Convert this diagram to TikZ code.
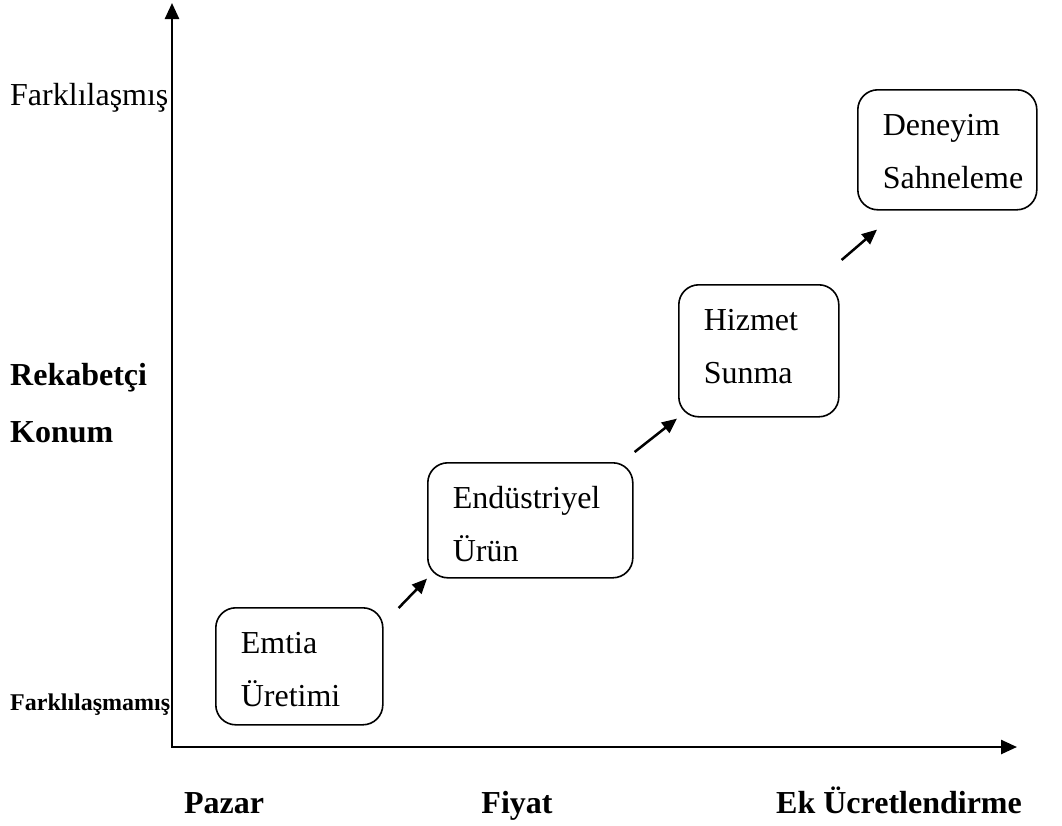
\documentclass[tikz,border=0pt]{standalone}
\usepackage{fontspec}
\setmainfont{Liberation Serif}
\usetikzlibrary{arrows.meta}

\begin{document}
\begin{tikzpicture}[x=1pt,y=-1pt,
  stage/.style={draw, line width=1.6pt, rounded corners=20pt, anchor=north west,
    align=left, inner xsep=25pt, inner ysep=0pt, text height=46pt, font=\fontsize{32}{53}\selectfont},
  axis/.style={line width=2.5pt, {Triangle[length=16pt,width=14pt]}-{Triangle[length=16pt,width=14pt]}},
  stepto/.style={line width=2.5pt, -{Triangle[length=15pt,width=13pt]}},
  lab/.style={inner sep=0pt, anchor=base west},
  axlab/.style={inner sep=0pt, anchor=base, font=\bfseries\fontsize{32}{40}\selectfont}]
\useasboundingbox (0,0) rectangle (1062,825);

% axes
\coordinate (ytop) at (172,3);
\coordinate (o) at (172,747);
\coordinate (xend) at (1017,747);
\draw[axis] (ytop) -- (o) -- (xend);

% stages
\node[stage, text width=117pt, text depth=71pt] (emtia) at (215,607) {Emtia\\Üretimi};
\node[stage, text width=155pt, text depth=69pt] (endus) at (427,462) {Endüstriyel\\Ürün};
\node[stage, text width=110pt, text depth=86pt] (hizmet) at (678,284) {Hizmet\\Sunma};
\node[stage, text width=129pt, text depth=74pt] (deneyim) at (857,89) {Deneyim\\Sahneleme};

\draw[stepto] ([shift={(15,1)}]emtia.north east) -- (endus.south west);
\draw[stepto] ([shift={(1,-10)}]endus.north east) -- ([shift={(-1,1)}]hizmet.south west);
\draw[stepto] ([shift={(2,-24)}]hizmet.north east) -- ([shift={(20,19)}]deneyim.south west);

% y labels
\node[lab, font=\fontsize{32}{40}\selectfont] (farkli) at (10,105) {Farklılaşmış};
\node[lab, font=\bfseries\fontsize{32}{40}\selectfont] (rekabet) at (10,385) {Rekabetçi};
\node[lab, font=\bfseries\fontsize{32}{40}\selectfont] (konum) at (10,442) {Konum};
\node[lab, font=\bfseries\fontsize{24}{30}\selectfont] (farksiz) at (10,710) {Farklılaşmamış};

% x labels
\node[axlab] (pazar) at (224,813) {Pazar};
\node[axlab] (fiyat) at (517,813) {Fiyat};
\node[axlab] (ek) at (899,813) {Ek Ücretlendirme};
\end{tikzpicture}
\end{document}
